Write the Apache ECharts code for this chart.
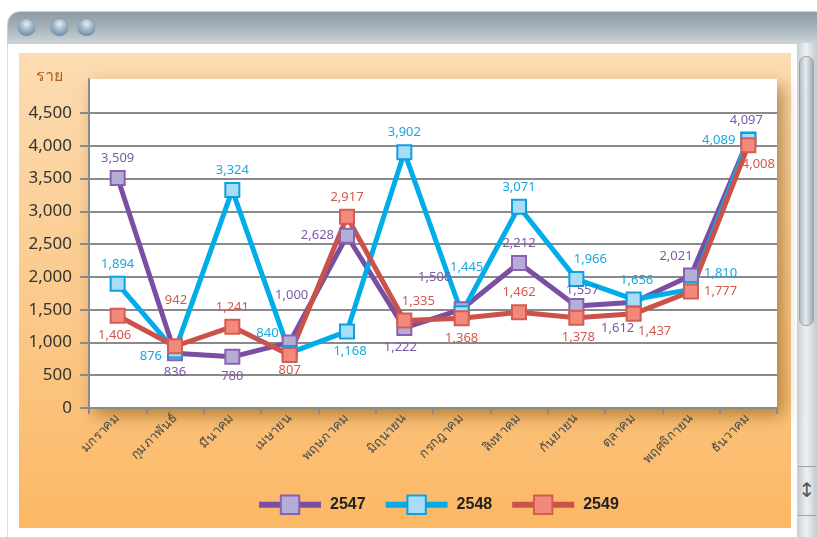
<!DOCTYPE html>
<html>
<head>
<meta charset="utf-8">
<script src="https://cdn.jsdelivr.net/npm/echarts@6/dist/echarts.min.js"></script>
<style>
  html, body { margin: 0; padding: 0; background: #fff; }
  #wrap { position: relative; width: 817px; height: 537px; overflow: hidden; background: #fff; }
  .titlebar { position: absolute; left: 7px; top: 11px; width: 820px; height: 31px;
    border-radius: 13px 13px 0 0; border: 1px solid #c9d0d5;
    background: linear-gradient(#8d9ba5, #a9b4bb 55%, #cdd4d8); }
  .btn { position: absolute; top: 7px; width: 17px; height: 17px; border-radius: 50%;
    background: radial-gradient(circle at 50% 30%, #e6eef5 0%, #a9bfd1 35%, #6e8ea9 80%, #5a7690 100%);
    box-shadow: 0 0 1px #51697e; }
  .side { position: absolute; left: 7px; top: 43px; width: 1px; height: 494px; background: #d7dcdf; }
  .panel { position: absolute; left: 19px; top: 53px; width: 772px; height: 475px;
    background: linear-gradient(#fcdcb2, #fbc98a 55%, #fbb864); }
  .track { position: absolute; left: 797px; top: 43px; width: 20px; height: 494px;
    background: linear-gradient(90deg, #c8d0d5, #eef1f3 45%, #c3cbd0); }
  .thumb { position: absolute; left: 799px; top: 56px; width: 13px; height: 268px; border-radius: 7px;
    border: 1px solid #9aa6ae; background: linear-gradient(90deg, #b6c0c7, #e7ebee 45%, #9fabb3); }
  .arrows { position: absolute; left: 798px; top: 466px; width: 18px; height: 48px;
    border-top: 1px solid #9aa6ae; border-bottom: 1px solid #9aa6ae;
    background: linear-gradient(90deg, #c3ccd2, #eef1f3 50%, #c3ccd2);
    color: #555; font: 20px "DejaVu Sans"; text-align: center; line-height: 46px; }
  #chart { position: absolute; left: 0; top: 0; width: 817px; height: 537px; }
</style>
</head>
<body>
<div id="wrap">
  <div class="titlebar">
    <div class="btn" style="left:10px"></div>
    <div class="btn" style="left:43px"></div>
    <div class="btn" style="left:70px"></div>
  </div>
  <div class="side"></div>
  <div class="panel"></div>
  <div class="track"></div>
  <div class="thumb"></div>
  <div class="arrows">&#8597;</div>
  <div id="chart"></div>
</div>
<script>
// เดือน
const months = ['มกราคม', 'กุมภาพันธ์', 'มีนาคม', 'เมษายน', 'พฤษภาคม', 'มิถุนายน',
  'กรกฎาคม', 'สิงหาคม', 'กันยายน', 'ตุลาคม', 'พฤศจิกายน', 'ธันวาคม'];
const yearNames = ['2547', '2548', '2549'];

// จำนวนราย ต่อปี
const y2547 = [3509, 836, 780, 1000, 2628, 1222, 1506, 2212, 1557, 1612, 2021, 4097];
const y2548 = [1894, 876, 3324, 840, 1168, 3902, 1445, 3071, 1966, 1656, 1810, 4089];
const y2549 = [1406, 942, 1241, 807, 2917, 1335, 1368, 1462, 1378, 1437, 1777, 4008];

// ตำแหน่งป้ายตัวเลข [position, dx, dy]
const pos2547 = [['top',0,0],['bottom',0,0],['bottom',0,0],['top',2,-28],['left',0,0],['bottom',-4,0],
  ['top',-27,-12],['top',0,0],['top',6,4],['bottom',-16,6],['top',-15,0],['top',-2,0]];
const pos2548 = [['top',0,0],['left',0,6],['top',0,0],['left',2,-20],['bottom',3,0],['top',0,0],
  ['top',5,-26],['top',0,0],['top',14,0],['top',3,0],['right',0,-16],['left',0,0]];
const pos2549 = [['bottom',-3,0],['top',1,-26],['top',0,0],['bottom',0,-4],['top',0,0],['top',14,0],
  ['bottom',0,0],['top',0,0],['bottom',2,0],['bottom',21,-2],['right',0,0],['bottom',10,0]];

const lineColors = ['#7a4ea2', '#00adea', '#c9534b'];
const fillColors = ['#b2aed6', '#a9dcf6', '#f2897a'];
const borderColors = ['#8b60b3', '#0e9fdf', '#d45c51'];
const labelColors = ['#7d5aa8', '#1ba7e0', '#d15a4f'];

function $each(arr, fn){ for (let i = 0; i < arr.length; i++) fn(i, arr[i]); }

function buildData(values, places){
	let out = [];
	$each(values, function(i, v){
		let p = places[i];
		out.push({ value: v, label: { position: p[0], offset: [p[1], p[2]] } });
	});
	return out;
}

function fmt(v){ return Number(v).toLocaleString('en-US'); }

const seriesValues = [y2547, y2548, y2549];
const seriesPlaces = [pos2547, pos2548, pos2549];
let series = [];
$each(yearNames, function(i, name){
	series.push({
		name: name,
		type: 'line',
		xAxisIndex: 0,
		yAxisIndex: 0,
		data: buildData(seriesValues[i], seriesPlaces[i]),
		symbol: 'rect',
		symbolSize: 14,
		lineStyle: { color: lineColors[i], width: 5 },
		itemStyle: { color: fillColors[i], borderColor: borderColors[i], borderWidth: 2 },
		label: {
			show: true,
			color: labelColors[i],
			fontSize: 13,
			fontFamily: 'Noto Sans',
			formatter: function(p){ return fmt(p.value); }
		},
		emphasis: { disabled: true },
		animation: false
	});
});

let myChart = echarts.init(document.getElementById('chart'));
let option = {
	animation: false,
	grid: [
		{ left: 89, right: 40, top: 113, bottom: 129, show: false },
		// พื้นขาวของพื้นที่กราฟ
		{ left: 89, right: 40, top: 79, bottom: 129, show: true, backgroundColor: '#fff', borderWidth: 0,
		  shadowColor: 'rgba(130,80,10,0.6)', shadowBlur: 16, shadowOffsetX: 6, shadowOffsetY: 7 }
	],
	xAxis: [
		{
			type: 'category', gridIndex: 0, data: months, boundaryGap: true,
			axisLine: { lineStyle: { color: '#8a8a8a', width: 2 } },
			axisTick: { show: true, length: 6, lineStyle: { color: '#8a8a8a', width: 2 } },
			axisLabel: { rotate: 45, margin: 8, color: '#4a4a4a', fontSize: 13, interval: 0 }
		},
		{ type: 'category', gridIndex: 1, show: false, data: months }
	],
	yAxis: [
		{
			type: 'value', gridIndex: 0, min: 0, max: 4500, interval: 500,
			axisLine: { show: false },
			axisTick: { show: true, length: 9, lineStyle: { color: '#8a8a8a', width: 2 } },
			splitLine: { lineStyle: { color: '#8a8a8a', width: 2 } },
			axisLabel: { margin: 17, color: '#333', fontSize: 17, fontFamily: 'Noto Sans',
				formatter: function(v){ return fmt(v); } }
		},
		{
			type: 'value', gridIndex: 1, min: 0, max: 5000,
			name: 'ราย', nameLocation: 'end', nameGap: -6,
			nameTextStyle: { color: '#b0601a', fontSize: 16, align: 'right', padding: [0, 26, 0, 0] },
			axisLine: { show: true, lineStyle: { color: '#8a8a8a', width: 2 } },
			axisTick: { show: false }, axisLabel: { show: false }, splitLine: { show: false }
		}
	],
	legend: {
		bottom: 17,
		left: 251,
		itemWidth: 62,
		itemHeight: 23,
		itemGap: 17,
		lineStyle: { width: 6 },
		textStyle: { color: '#222', fontSize: 16, fontWeight: 'bold', fontFamily: 'Liberation Sans',
			padding: [0, 0, 0, 4] },
		data: yearNames
	},
	series: series
};
myChart.setOption(option);
window.addEventListener('resize', function(){ myChart.resize(); });
</script>
</body>
</html>
